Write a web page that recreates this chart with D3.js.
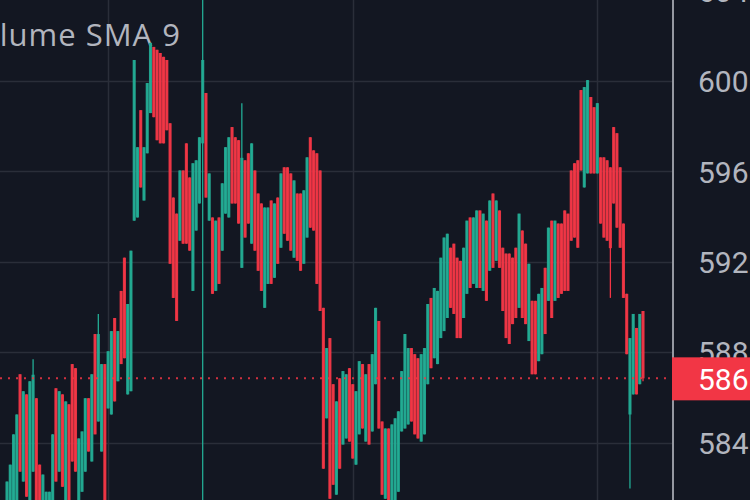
<!DOCTYPE html>
<html>
<head>
<meta charset="utf-8">
<script src="https://cdn.jsdelivr.net/npm/d3@7"></script>
<style>
  html, body { margin: 0; padding: 0; background: #131722; overflow: hidden; }
  svg { display: block; }
</style>
</head>
<body>
<svg id="chart" width="750" height="500"></svg>
<script>
// ---- data ----
const highs = [
  582.27, 583.02, 584.36, 585.24, 587.02, 586.27, 586.13, 586.71, 587.69, 585.96,
  583.02, 582.58, 581.82, 581.82, 584.36, 586.4, 586.27, 586.13, 585.82, 585.69,
  587.47, 587.29, 584.18, 584.49, 585.96, 585.96, 587.02, 588.8, 589.69, 587.47,
  587.47, 588.04, 588.93, 589.51, 588.93, 590.71, 592.18, 590.13, 592.49, 600.93,
  597.07, 598.71, 597.07, 599.91, 601.69, 601.51, 601.38, 601.24, 601.07, 600.93,
  598.13, 594.84, 594.13, 596.04, 596.04, 597.24, 595.73, 596.36, 596.49, 597.51,
  605.0, 599.47, 595.91, 593.96, 593.82, 593.96, 595.47, 597.07, 597.51, 597.96,
  597.51, 597.38, 599.02, 596.49, 596.8, 597.24, 596.04, 595.02, 594.58, 594.4,
  594.4, 594.71, 594.58, 594.84, 595.91, 596.18, 596.18, 595.91, 595.6, 595.02,
  595.02, 595.16, 596.62, 597.51, 596.93, 596.8, 596.04, 589.96, 588.18, 588.62,
  586.58, 585.82, 586.84, 587.16, 587.02, 587.29, 586.58, 586.27, 587.6, 587.47,
  587.02, 587.47, 587.91, 589.96, 589.38, 584.93, 584.62, 584.62, 584.8, 585.07,
  585.38, 587.16, 588.8, 588.18, 588.18, 587.91, 587.73, 587.91, 588.18, 590.13,
  590.4, 590.84, 590.71, 592.18, 593.07, 593.24, 592.62, 592.8, 592.18, 592.04,
  592.62, 593.82, 593.96, 593.96, 594.27, 594.27, 594.13, 593.82, 594.71, 595.02,
  594.71, 594.27, 592.62, 592.36, 592.36, 592.18, 592.62, 594.13, 593.38, 592.8,
  591.91, 590.27, 590.27, 590.58, 590.84, 591.73, 593.51, 593.82, 593.82, 593.69,
  593.69, 594.27, 594.13, 596.04, 596.36, 596.49, 599.6, 599.73, 600.04, 599.29,
  598.84, 599.02, 596.62, 596.62, 596.49, 596.18, 597.96, 597.69, 596.18, 593.69,
  590.58, 588.62, 589.69, 589.07, 589.69, 589.82
];
const lows = [
  580.93, 580.93, 581.16, 581.38, 582.71, 582.27, 581.6, 581.38, 582.71, 581.38,
  580.93, 580.93, 580.71, 580.93, 581.38, 582.27, 582.71, 582.04, 581.38, 581.38,
  583.16, 582.71, 581.38, 581.82, 582.71, 583.6, 583.16, 584.36, 584.93, 583.6,
  581.38, 585.51, 585.24, 585.82, 586.71, 587.47, 587.73, 586.13, 586.27, 593.82,
  593.96, 595.29, 594.71, 596.8, 598.58, 598.4, 597.38, 597.24, 597.24, 597.82,
  591.91, 590.4, 589.38, 592.93, 592.8, 592.8, 592.49, 590.71, 593.38, 594.58,
  581.0, 594.84, 593.82, 590.58, 590.71, 591.02, 592.49, 594.13, 593.96, 594.58,
  594.58, 593.69, 591.73, 593.07, 593.69, 592.8, 592.49, 591.6, 590.71, 589.96,
  591.02, 591.02, 591.29, 591.91, 592.62, 593.24, 592.93, 592.49, 592.18, 592.04,
  591.6, 591.91, 593.07, 593.51, 593.38, 591.02, 589.82, 582.84, 585.07, 581.51,
  582.13, 581.69, 582.84, 583.91, 584.18, 584.04, 583.29, 583.02, 584.36, 584.62,
  584.04, 583.91, 584.49, 586.58, 584.62, 581.69, 581.51, 581.38, 581.38, 581.38,
  581.82, 584.49, 584.62, 584.8, 584.93, 584.36, 584.18, 584.04, 584.36, 586.58,
  587.29, 587.73, 587.47, 588.62, 588.93, 589.51, 589.96, 589.69, 588.62, 588.62,
  589.51, 590.58, 590.84, 591.02, 590.84, 590.84, 590.71, 590.27, 591.6, 591.73,
  592.04, 591.73, 589.82, 588.62, 588.36, 589.24, 589.51, 589.96, 589.51, 589.24,
  588.49, 587.02, 587.02, 587.6, 587.91, 588.8, 590.27, 589.51, 590.27, 590.4,
  590.58, 590.71, 590.71, 592.93, 593.07, 592.62, 596.04, 595.29, 595.91, 595.91,
  595.91, 595.91, 593.69, 593.07, 592.93, 590.4, 594.58, 593.51, 592.62, 590.4,
  587.91, 581.96, 586.13, 586.13, 586.58, 586.71
];
const opens = [
  580.93, 580.93, 581.16, 581.38, 587.02, 582.27, 586.13, 581.38, 582.71, 585.96,
  583.02, 580.93, 580.71, 580.93, 581.38, 586.4, 582.71, 586.13, 581.38, 585.69,
  587.47, 587.29, 581.38, 581.82, 582.71, 585.96, 583.16, 588.8, 584.93, 583.6,
  587.47, 585.51, 585.24, 589.51, 586.71, 590.71, 592.18, 586.13, 586.27, 593.82,
  593.96, 598.71, 594.71, 596.8, 598.58, 601.51, 601.38, 601.24, 601.07, 600.93,
  598.13, 594.84, 594.13, 592.93, 596.04, 597.24, 595.73, 590.71, 593.38, 594.58,
  597.24, 599.47, 593.82, 593.96, 590.71, 593.96, 592.49, 594.13, 593.96, 597.96,
  597.51, 597.38, 591.73, 596.49, 596.8, 592.8, 596.04, 595.02, 594.58, 589.96,
  591.02, 594.71, 591.29, 594.84, 592.62, 596.18, 596.18, 595.91, 592.18, 595.02,
  595.02, 591.91, 593.07, 597.51, 596.93, 596.8, 596.04, 589.96, 585.07, 588.62,
  586.58, 581.69, 586.84, 583.91, 584.18, 587.29, 586.58, 583.02, 584.36, 587.47,
  584.04, 587.47, 584.49, 586.58, 589.38, 584.93, 581.51, 584.62, 581.38, 581.38,
  581.82, 584.49, 584.62, 584.8, 588.18, 587.91, 587.73, 584.04, 584.36, 586.58,
  590.4, 587.73, 587.47, 588.62, 588.93, 589.51, 592.62, 592.8, 592.18, 592.04,
  589.51, 590.58, 593.96, 591.02, 590.84, 594.27, 590.71, 593.82, 591.6, 595.02,
  592.04, 594.27, 592.62, 592.36, 592.36, 592.18, 592.62, 589.96, 593.38, 592.8,
  588.49, 590.27, 590.27, 587.6, 587.91, 591.73, 590.27, 593.82, 590.27, 593.69,
  593.69, 594.27, 594.13, 596.04, 596.36, 596.49, 599.6, 595.29, 595.91, 599.29,
  598.84, 595.91, 596.62, 596.62, 596.49, 596.18, 597.96, 597.69, 596.18, 593.69,
  590.58, 585.24, 586.13, 589.07, 586.58, 589.82
];
const closes = [
  582.27, 583.02, 584.36, 585.24, 582.71, 586.27, 581.6, 586.71, 587.0, 581.38,
  580.93, 582.58, 581.82, 581.82, 584.36, 582.27, 586.27, 582.04, 585.82, 581.38,
  583.16, 582.71, 584.18, 584.49, 585.96, 583.6, 587.02, 584.36, 588.8, 587.47,
  581.38, 588.04, 588.93, 585.82, 588.93, 587.47, 587.73, 590.13, 592.49, 600.93,
  597.07, 595.29, 597.07, 599.91, 601.69, 598.4, 597.38, 597.24, 597.24, 597.82,
  591.91, 590.4, 589.38, 596.04, 592.8, 592.8, 592.49, 596.36, 596.49, 597.51,
  600.93, 594.84, 595.91, 590.58, 593.82, 591.02, 595.47, 597.07, 597.51, 594.58,
  594.58, 593.69, 596.6, 593.07, 593.69, 597.24, 592.49, 591.6, 590.71, 594.4,
  594.4, 591.02, 594.58, 591.91, 595.91, 593.24, 592.93, 592.49, 595.6, 592.04,
  591.6, 595.16, 596.62, 593.51, 593.38, 591.02, 589.82, 582.84, 588.18, 581.51,
  582.13, 585.82, 582.84, 587.16, 587.02, 584.04, 583.29, 586.27, 587.6, 584.62,
  587.02, 583.91, 587.91, 589.96, 584.62, 581.69, 584.62, 581.38, 584.8, 585.07,
  585.38, 587.16, 588.8, 588.18, 584.93, 584.36, 584.18, 587.91, 588.18, 590.13,
  587.29, 590.84, 590.71, 592.18, 593.07, 593.24, 589.96, 589.69, 588.62, 588.62,
  592.62, 593.82, 590.84, 593.96, 594.27, 590.84, 594.13, 590.27, 594.71, 591.73,
  594.71, 591.73, 589.82, 588.62, 588.36, 589.24, 589.51, 594.13, 589.51, 589.24,
  591.91, 587.02, 587.02, 590.58, 590.84, 588.8, 593.51, 589.51, 593.82, 590.4,
  590.58, 590.71, 590.71, 592.93, 593.07, 592.62, 596.04, 599.73, 600.04, 595.91,
  595.91, 599.02, 593.69, 593.07, 592.93, 592.6, 594.58, 593.51, 592.62, 590.4,
  587.91, 588.62, 589.69, 586.13, 589.69, 586.84
];
const priceTicks = [584, 588, 592, 596, 600, 604];
const timeGridIdx = [31, 106, 181];
const lastPrice = 586.84;
const lastPriceLabel = "586";
const legendText = "Volume SMA 9";

// ---- layout ----
const W = 750, H = 500;
const axisX = 673;
const bg = "#131722", gridC = "#2a2e39", upC = "#22ab94", downC = "#f23645";
const textC = "#b2b5be";

const svg = d3.select("#chart");
const defs = svg.append("defs");
defs.append("filter").attr("id", "soft")
  .attr("x", "-5%").attr("y", "-5%").attr("width", "110%").attr("height", "110%")
  .append("feGaussianBlur").attr("stdDeviation", 0.6);
defs.append("clipPath").attr("id", "plotclip").append("rect")
  .attr("x", 0).attr("y", 0).attr("width", axisX).attr("height", H);

svg.append("rect").attr("width", W).attr("height", H).attr("fill", bg);

const n = highs.length;
const x = d3.scaleLinear().domain([0, n - 1]).range([7, 643]);
const y = d3.scaleLinear().domain([584, 600]).range([442.5, 81]);

// grid
const grid = svg.append("g");
grid.selectAll("line.h").data(priceTicks).join("line")
  .attr("x1", 0).attr("x2", axisX)
  .attr("y1", d => Math.round(y(d)) + 0.5).attr("y2", d => Math.round(y(d)) + 0.5)
  .attr("stroke", gridC).attr("stroke-width", 1.5);
grid.selectAll("line.v").data(timeGridIdx).join("line")
  .attr("x1", d => Math.round(x(d)) + 0.5).attr("x2", d => Math.round(x(d)) + 0.5)
  .attr("y1", 0).attr("y2", H)
  .attr("stroke", gridC).attr("stroke-width", 1.5);

// legend
svg.append("text")
  .attr("x", 181).attr("y", 46)
  .attr("text-anchor", "end")
  .attr("font-family", "'Open Sans', Roboto, sans-serif")
  .attr("font-size", 31)
  .attr("letter-spacing", 1)
  .attr("fill", textC)
  .text(legendText);

// candles
const idx = d3.range(n);
const step = x(1) - x(0);
const bw = step * 0.95;
const cg = svg.append("g").attr("clip-path", "url(#plotclip)")
  .append("g").attr("filter", "url(#soft)");
const colorOf = i => closes[i] >= opens[i] ? upC : downC;
cg.selectAll("line.wick").data(idx).join("line")
  .attr("x1", i => x(i)).attr("x2", i => x(i))
  .attr("y1", i => y(highs[i])).attr("y2", i => y(lows[i]))
  .attr("stroke", colorOf).attr("stroke-width", 1.3);
cg.selectAll("rect.body").data(idx).join("rect")
  .attr("x", i => x(i) - bw / 2)
  .attr("width", bw)
  .attr("y", i => y(Math.max(opens[i], closes[i])))
  .attr("height", i => Math.max(1, Math.abs(y(opens[i]) - y(closes[i]))))
  .attr("fill", colorOf)
  .attr("fill-opacity", 0.92);

// last price dotted line
svg.append("line")
  .attr("x1", 0).attr("x2", axisX)
  .attr("y1", y(lastPrice)).attr("y2", y(lastPrice))
  .attr("stroke", downC).attr("stroke-opacity", 0.85)
  .attr("stroke-width", 2).attr("stroke-dasharray", "2 6");

// price axis
const axisG = svg.append("g").attr("transform", `translate(${axisX},0)`)
  .call(d3.axisRight(y).tickValues(priceTicks).tickSize(0).tickPadding(25).tickFormat(d3.format("d")));
axisG.select(".domain").remove();
axisG.selectAll("text")
  .attr("font-family", "Roboto, 'Noto Sans', sans-serif")
  .attr("font-size", 30)
  .attr("fill", textC)
  .attr("dy", "0.36em");

svg.append("line")
  .attr("x1", axisX).attr("x2", axisX).attr("y1", 0).attr("y2", H)
  .attr("stroke", "#9598a1").attr("stroke-width", 2);

// last price label
const ly = y(lastPrice);
svg.append("rect")
  .attr("x", axisX - 1).attr("y", ly - 21)
  .attr("width", W - axisX + 1).attr("height", 43)
  .attr("fill", downC);
svg.append("text")
  .attr("x", axisX + 25).attr("y", ly + 1)
  .attr("dy", "0.36em")
  .attr("font-family", "Roboto, 'Noto Sans', sans-serif")
  .attr("font-size", 30)
  .attr("fill", "#ffffff")
  .text(lastPriceLabel);
</script>
</body>
</html>
